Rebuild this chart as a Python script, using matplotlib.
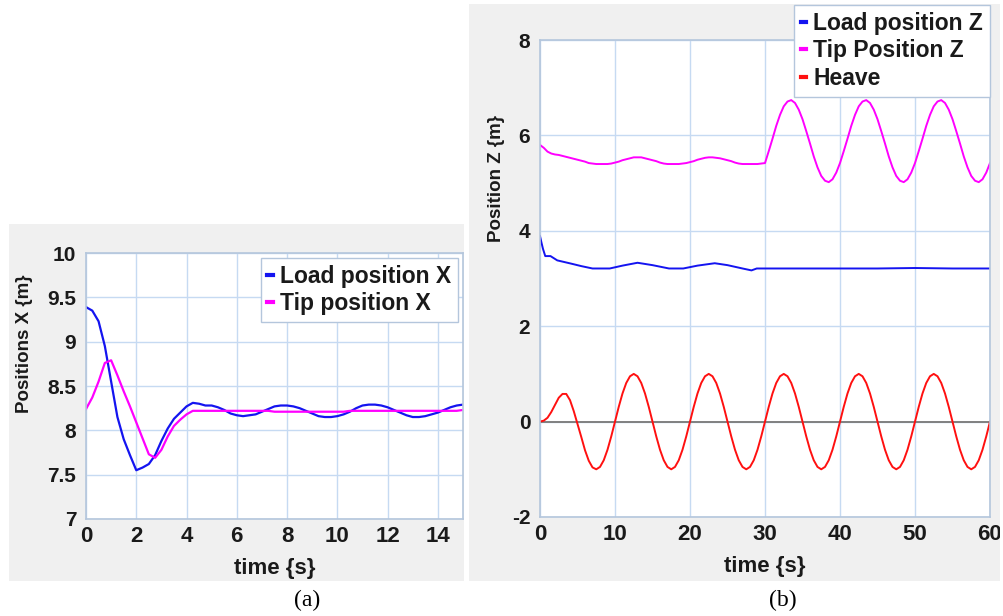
import numpy as np
import matplotlib
matplotlib.use('Agg')
import matplotlib.pyplot as plt
from matplotlib.patches import Rectangle
from matplotlib.transforms import Bbox, TransformedBbox

plt.rcParams['font.family'] = ['Liberation Sans', 'DejaVu Sans']
plt.rcParams['axes.unicode_minus'] = False

# ---- panel (a) data ----
t_a = np.arange(0, 15.01, 0.25)
load_x = [9.39, 9.35, 9.23, 8.95, 8.55, 8.15, 7.90, 7.72, 7.55, 7.58,
          7.62, 7.72, 7.88, 8.02, 8.13, 8.20, 8.27, 8.31, 8.30, 8.28,
          8.28, 8.26, 8.23, 8.19, 8.17, 8.16, 8.17, 8.18, 8.21, 8.24,
          8.27, 8.28, 8.28, 8.27, 8.25, 8.22, 8.19, 8.16, 8.15, 8.15,
          8.16, 8.18, 8.21, 8.25, 8.28, 8.29, 8.29, 8.28, 8.26, 8.23,
          8.20, 8.17, 8.15, 8.15, 8.16, 8.18, 8.20, 8.23, 8.26, 8.28,
          8.29]
tip_x = [8.24, 8.37, 8.55, 8.76, 8.79, 8.62, 8.44, 8.27, 8.09, 7.91,
         7.73, 7.69, 7.78, 7.93, 8.05, 8.12, 8.18, 8.22, 8.22, 8.22,
         8.22, 8.22, 8.22, 8.22, 8.22, 8.22, 8.22, 8.22, 8.22, 8.22,
         8.21, 8.21, 8.21, 8.21, 8.21, 8.21, 8.21, 8.21, 8.21, 8.21,
         8.21, 8.21, 8.22, 8.22, 8.22, 8.22, 8.22, 8.22, 8.22, 8.22,
         8.22, 8.22, 8.22, 8.22, 8.22, 8.22, 8.22, 8.22, 8.22, 8.22,
         8.23]

# ---- panel (b) data ----
t_b = np.arange(0, 60.01, 0.5)
tip_calm = [5.80, 5.74, 5.66, 5.62, 5.60, 5.59, 5.57, 5.55, 5.53, 5.51,
            5.49, 5.47, 5.45, 5.42, 5.41, 5.40, 5.40, 5.40, 5.40, 5.41,
            5.43, 5.45, 5.48, 5.50, 5.52, 5.54, 5.54, 5.54, 5.52, 5.50,
            5.48, 5.46, 5.43, 5.41, 5.40, 5.40, 5.40, 5.40, 5.41, 5.42,
            5.44, 5.46, 5.49, 5.51, 5.53, 5.54, 5.54, 5.53, 5.52, 5.50,
            5.48, 5.46, 5.43, 5.41, 5.40, 5.40, 5.40, 5.40, 5.40, 5.41]
tip_wave = [5.42, 5.67, 5.93, 6.20, 6.43, 6.61, 6.71, 6.74, 6.68, 6.54,
            6.34, 6.09, 5.83, 5.56, 5.33, 5.15, 5.05, 5.02, 5.08, 5.22]
tip_z = tip_calm + tip_wave * 3 + [5.42]

heave_start = [0.0, 0.02, 0.08, 0.20, 0.35, 0.50, 0.58, 0.58, 0.45, 0.22,
               -0.05, -0.32, -0.60, -0.82, -0.96, -1.0, -0.95, -0.81, -0.59, -0.31]
heave_wave = [0.0, 0.31, 0.59, 0.81, 0.95, 1.0, 0.95, 0.81, 0.59, 0.31,
              0.0, -0.31, -0.59, -0.81, -0.95, -1.0, -0.95, -0.81, -0.59, -0.31]
heave = heave_start + heave_wave * 5 + [0.0]

t_load = [0, 0.2, 0.4, 0.7, 1.4, 2.3, 4.2, 5.5, 7.0, 9.3, 11.0, 13.0, 15.0,
          17.2, 19.1, 21.0, 23.3, 25.0, 27.0, 28.2, 28.9, 35, 40, 45, 50, 55, 60]
load_z = [3.89, 3.75, 3.62, 3.47, 3.47, 3.38, 3.31, 3.26, 3.21, 3.21, 3.27, 3.33, 3.28,
          3.21, 3.21, 3.27, 3.32, 3.28, 3.21, 3.17, 3.21, 3.21, 3.21, 3.21, 3.22, 3.21, 3.21]

W, H = 1004, 616
fig = plt.figure(figsize=(W / 100, H / 100), dpi=100)

def fx(px):
    return px / W

def fy(py):
    return 1 - py / H

# gray panel backgrounds
bg_col = '#f0f0f0'
fig.patches.append(Rectangle((fx(9), fy(581)), fx(455), 357 / H, transform=fig.transFigure,
                             facecolor=bg_col, edgecolor='none', zorder=-5))
fig.patches.append(Rectangle((fx(469), fy(581)), fx(531), 577 / H, transform=fig.transFigure,
                             facecolor=bg_col, edgecolor='none', zorder=-5))

grid_col = '#c6daf2'
spine_col = '#b4c6dc'
txt_col = '#1a1a1a'

def style(ax):
    ax.set_facecolor('white')
    for s in ax.spines.values():
        s.set_color(spine_col)
        s.set_linewidth(1.2)
    ax.grid(True, color=grid_col, linewidth=1.0)
    ax.set_axisbelow(True)
    ax.tick_params(length=0, colors=txt_col)
    ax.tick_params(axis='x', labelsize=16, pad=5)
    ax.tick_params(axis='y', labelsize=15, pad=7)
    for lbl in ax.get_xticklabels() + ax.get_yticklabels():
        lbl.set_fontweight('bold')

def make_legend(ax, anchor):
    leg = ax.legend(loc='upper right', bbox_to_anchor=anchor,
                    bbox_transform=fig.transFigure, borderaxespad=0,
                    fancybox=False, framealpha=1, edgecolor=spine_col,
                    handlelength=0.25, handletextpad=0.3, labelspacing=0.2,
                    borderpad=0.3, prop={'size': 16.5, 'weight': 'bold'})
    for h in leg.legend_handles:
        h.set_linewidth(3)
    for tx in leg.get_texts():
        tx.set_color(txt_col)
    return leg

# ---- (a) ----
ax1 = fig.add_axes([fx(86), fy(519), fx(377), 266 / H])
ax1.plot(t_a, load_x, color='#1414f0', lw=1.6, label='Load position X')
ax1.plot(t_a, tip_x, color='#ff00ff', lw=1.6, label='Tip position X')
ax1.set_xlim(0, 15)
ax1.set_ylim(7, 10)
ax1.set_xticks(range(0, 15, 2))
ax1.set_yticks([7, 7.5, 8, 8.5, 9, 9.5, 10])
ax1.set_yticklabels(['7', '7.5', '8', '8.5', '9', '9.5', '10'])
style(ax1)
ax1.set_xlabel('time {s}', fontsize=16, fontweight='bold', color=txt_col)
ax1.xaxis.set_label_coords(0.5, -0.147)
ax1.set_ylabel('Positions X {m}', fontsize=13.5, fontweight='bold', color=txt_col)
ax1.yaxis.set_label_coords(-0.141, 0.66)
make_legend(ax1, (fx(458), fy(258)))

# ---- (b) ----
ax2 = fig.add_axes([fx(540), fy(517), fx(450), 477 / H])
ax2.axhline(0, color='#808080', lw=1.4, zorder=1.5)
ax2.plot(t_load, load_z, color='#1414f0', lw=1.4, label='Load position Z')
ax2.plot(t_b, tip_z, color='#ff00ff', lw=1.4, label='Tip Position Z')
ax2.plot(t_b, heave, color='#ff1010', lw=1.4, label='Heave')
ax2.set_xlim(0, 60)
ax2.set_ylim(-2, 8)
ax2.set_xticks(range(0, 61, 10))
ax2.set_yticks(range(-2, 9, 2))
style(ax2)
ax2.set_xlabel('time {s}', fontsize=16, fontweight='bold', color=txt_col)
ax2.xaxis.set_label_coords(0.5, -0.082)
ax2.set_ylabel('Position Z {m}', fontsize=13.5, fontweight='bold', color=txt_col)
ax2.yaxis.set_label_coords(-0.078, 0.71)
make_legend(ax2, (fx(990), fy(5)))

# the "60" label is cut off by the panel edge
clip = TransformedBbox(Bbox([[fx(469), 0], [fx(1000), 1]]), fig.transFigure)
for tk in ax2.xaxis.get_major_ticks():
    tk.label1.set_clip_box(clip)
    tk.label1.set_clip_on(True)

# panel captions
fig.text(fx(307), fy(600), '(a)', fontsize=17, family='Liberation Serif',
         ha='center', va='center', color='black')
fig.text(fx(783), fy(600), '(b)', fontsize=17, family='Liberation Serif',
         ha='center', va='center', color='black')

fig.savefig('out.png', dpi=100)
